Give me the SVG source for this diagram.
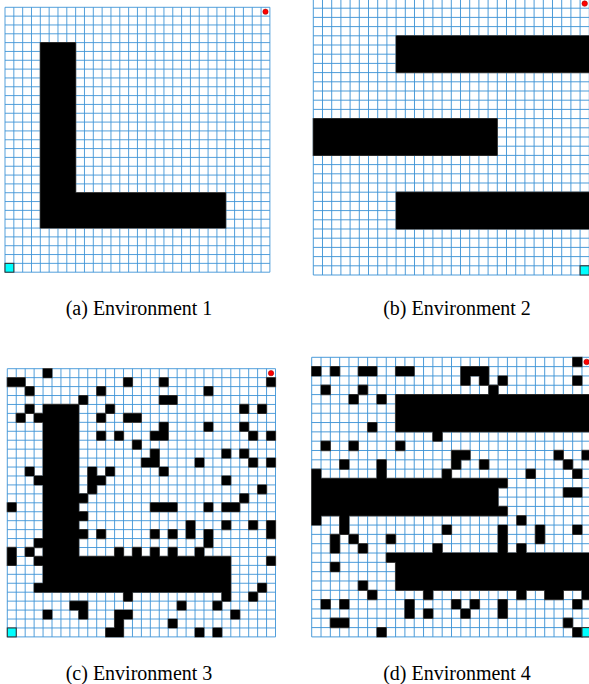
<svg xmlns="http://www.w3.org/2000/svg" width="589" height="684" viewBox="0 0 589 684">
<style>
.grid{fill:none;stroke:#3d93d6;stroke-width:0.1}
.edge{fill:#000;stroke:#555;stroke-width:0.14}
.obs{fill:#000}
.goal{fill:#00ffff;stroke:#333;stroke-width:0.12}
.start{fill:#ff0000;stroke:#900;stroke-width:0.06}
.cap{font-family:"Liberation Serif","Times New Roman",serif;font-size:20px;fill:#000;text-anchor:middle}
</style>
<defs>
<path id="gl" d="M0 0V30M1 0V30M2 0V30M3 0V30M4 0V30M5 0V30M6 0V30M7 0V30M8 0V30M9 0V30M10 0V30M11 0V30M12 0V30M13 0V30M14 0V30M15 0V30M16 0V30M17 0V30M18 0V30M19 0V30M20 0V30M21 0V30M22 0V30M23 0V30M24 0V30M25 0V30M26 0V30M27 0V30M28 0V30M29 0V30M30 0V30M0 0H30M0 1H30M0 2H30M0 3H30M0 4H30M0 5H30M0 6H30M0 7H30M0 8H30M0 9H30M0 10H30M0 11H30M0 12H30M0 13H30M0 14H30M0 15H30M0 16H30M0 17H30M0 18H30M0 19H30M0 20H30M0 21H30M0 22H30M0 23H30M0 24H30M0 25H30M0 26H30M0 27H30M0 28H30M0 29H30M0 30H30"/>
<path id="o1" d="M4 4h4v17h17v4H4z"/>
<path id="o2" d="M9 4h21v4H9zM0 13h20v4H0zM9 21h21v4H9z"/>
<path id="o3" d="M4 4h4v17h17v4H4z
M4 0h1v1h-1z
M0 1h2v1h-2zM13 1h1v1h-1zM17 1h1v1h-1zM29 1h1v1h-1z
M2 2h1v1h-1zM10 2h1v1h-1zM22 2h1v1h-1z
M8 3h1v1h-1zM17 3h2v1h-2z
M2 4h1v1h-1zM11 4h1v1h-1zM26 4h1v1h-1zM28 4h1v1h-1z
M1 5h1v1h-1zM3 5h1v1h-1zM10 5h1v1h-1zM13 5h2v1h-2z
M17 6h1v1h-1zM22 6h1v1h-1zM26 6h1v1h-1z
M10 7h1v1h-1zM12 7h1v1h-1zM16 7h2v1h-2zM27 7h1v1h-1zM29 7h1v1h-1z
M14 8h1v1h-1z
M16 9h1v1h-1zM24 9h1v1h-1zM26 9h1v1h-1z
M15 10h2v1h-2zM21 10h1v1h-1zM27 10h1v1h-1zM29 10h1v1h-1z
M2 11h1v1h-1zM9 11h1v1h-1zM11 11h1v1h-1zM17 11h1v1h-1z
M3 12h1v1h-1zM9 12h2v1h-2zM24 12h1v1h-1z
M9 13h1v1h-1zM28 13h1v1h-1z
M8 14h1v1h-1zM26 14h1v1h-1z
M0 15h1v1h-1zM16 15h3v1h-3zM22 15h1v1h-1zM24 15h2v1h-2z
M8 16h1v1h-1z
M20 17h1v1h-1zM24 17h1v1h-1zM27 17h1v1h-1zM29 17h1v1h-1z
M8 18h1v1h-1zM10 18h1v1h-1zM16 18h1v1h-1zM18 18h1v1h-1zM20 18h1v1h-1zM22 18h1v1h-1zM29 18h1v1h-1z
M3 19h1v1h-1zM22 19h1v1h-1z
M0 20h1v1h-1zM2 20h1v1h-1zM12 20h1v1h-1zM14 20h1v1h-1zM16 20h1v1h-1zM18 20h1v1h-1zM21 20h1v1h-1z
M0 21h1v1h-1zM3 21h1v1h-1zM29 21h1v1h-1z
M3 24h1v1h-1zM28 24h1v1h-1z
M13 25h1v1h-1zM24 25h1v1h-1zM27 25h1v1h-1z
M7 26h2v1h-2zM19 26h1v1h-1zM23 26h1v1h-1z
M4 27h1v1h-1zM8 27h1v1h-1zM12 27h2v1h-2zM25 27h1v1h-1z
M12 28h1v1h-1zM18 28h1v1h-1z
M11 29h2v1h-2zM21 29h1v1h-1zM23 29h1v1h-1z"/>
<path id="o4" d="M9 4h21v4H9zM0 13h20v4H0zM9 21h21v4H9z
M28 0h1v1h-1z
M0 1h1v1h-1zM2 1h1v1h-1zM5 1h2v1h-2zM9 1h2v1h-2zM16 1h3v1h-3z
M16 2h1v1h-1zM18 2h1v1h-1zM20 2h1v1h-1zM28 2h1v1h-1z
M1 3h1v1h-1zM5 3h1v1h-1zM19 3h1v1h-1z
M4 4h1v1h-1zM7 4h1v1h-1z
M6 7h1v1h-1z
M13 8h1v1h-1z
M1 9h1v1h-1zM4 9h1v1h-1zM9 9h1v1h-1z
M15 10h2v1h-2zM26 10h1v1h-1zM29 10h1v1h-1z
M3 11h1v1h-1zM7 11h1v1h-1zM15 11h1v1h-1zM18 11h1v1h-1zM27 11h1v1h-1z
M0 12h1v1h-1zM7 12h1v1h-1zM14 12h1v1h-1zM23 12h1v1h-1zM28 12h1v1h-1z
M20 13h1v1h-1z
M27 14h2v1h-2z
M20 16h1v1h-1z
M0 17h1v1h-1zM3 17h1v1h-1zM22 17h1v1h-1z
M3 18h1v1h-1zM14 18h1v1h-1zM20 18h1v1h-1zM24 18h1v1h-1zM28 18h1v1h-1z
M2 19h1v1h-1zM4 19h1v1h-1zM8 19h1v1h-1zM20 19h1v1h-1zM24 19h1v1h-1z
M2 20h1v1h-1zM5 20h1v1h-1zM13 20h1v1h-1zM20 20h1v1h-1zM22 20h1v1h-1z
M8 21h1v1h-1z
M2 22h1v1h-1z
M5 24h1v1h-1z
M6 25h1v1h-1zM12 25h1v1h-1zM22 25h1v1h-1zM25 25h2v1h-2zM29 25h1v1h-1z
M1 26h1v1h-1zM3 26h1v1h-1zM10 26h1v1h-1zM15 26h1v1h-1zM17 26h1v1h-1zM20 26h1v1h-1zM28 26h1v1h-1z
M10 27h1v1h-1zM12 27h1v1h-1zM16 27h1v1h-1zM20 27h1v1h-1z
M2 28h2v1h-2zM27 28h1v1h-1z
M7 29h1v1h-1zM28 29h1v1h-1z"/>
</defs>
<rect width="589" height="684" fill="#fff"/>
<g id="env1" transform="translate(5,7.3) scale(8.83)">
<use href="#gl" class="grid"/>
<use href="#o1" class="edge"/>
<use href="#o1" class="obs"/>
<rect class="goal" x="0" y="29" width="1" height="1"/>
<circle class="start" cx="29.5" cy="0.5" r="0.3"/>
</g>
<g id="env2" transform="translate(313.3,-1) scale(9.2)">
<use href="#gl" class="grid"/>
<use href="#o2" class="edge"/>
<use href="#o2" class="obs"/>
<rect class="goal" x="29" y="29" width="1" height="1"/>
<circle class="start" cx="29.5" cy="0.5" r="0.3"/>
</g>
<g id="env3" transform="translate(7.3,368.7) scale(8.94)">
<use href="#gl" class="grid"/>
<use href="#o3" class="edge"/>
<use href="#o3" class="obs"/>
<rect class="goal" x="0" y="29" width="1" height="1"/>
<circle class="start" cx="29.5" cy="0.5" r="0.3"/>
</g>
<g id="env4" transform="translate(311.7,357.3) scale(9.32)">
<use href="#gl" class="grid"/>
<use href="#o4" class="edge"/>
<use href="#o4" class="obs"/>
<rect class="goal" x="29" y="29" width="1" height="1"/>
<circle class="start" cx="29.5" cy="0.5" r="0.3"/>
</g>
<g id="captions">
<text class="cap" x="139" y="315">(a) Environment 1</text>
<text class="cap" x="457" y="315">(b) Environment 2</text>
<text class="cap" x="139" y="680">(c) Environment 3</text>
<text class="cap" x="457" y="680">(d) Environment 4</text>
</g>
</svg>
